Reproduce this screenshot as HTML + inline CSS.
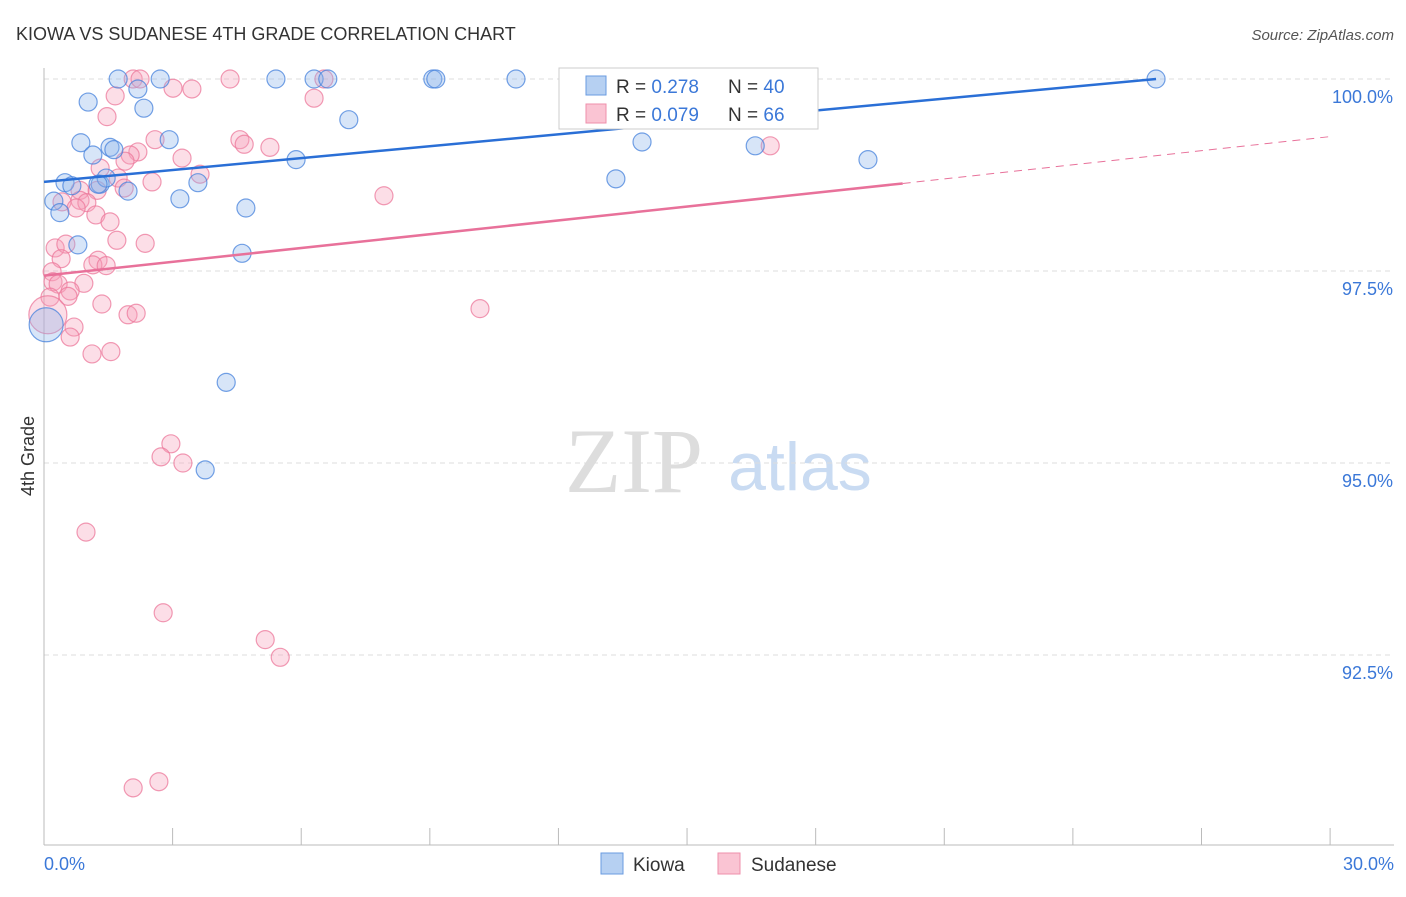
<!DOCTYPE html>
<html><head><meta charset="utf-8"><style>
body{margin:0;background:#fff;font-family:"Liberation Sans",sans-serif}
</style></head><body>
<svg id="c" width="1406" height="892" xmlns="http://www.w3.org/2000/svg" font-family="Liberation Sans, sans-serif">
<text x="16" y="40" font-size="18" fill="#333">KIOWA VS SUDANESE 4TH GRADE CORRELATION CHART</text>
<text x="1394" y="40" font-size="15" fill="#555" text-anchor="end" font-style="italic">Source: ZipAtlas.com</text>
<text x="634" y="492" font-size="92" fill="#ddd" text-anchor="middle" font-family="Liberation Serif, serif">ZIP</text>
<text x="800" y="490" font-size="68" fill="#c9dbf2" text-anchor="middle">atlas</text>
<text transform="translate(34,456) rotate(-90)" font-size="18" fill="#333" text-anchor="middle">4th Grade</text>
<g id="grid"></g><g id="axes"></g><g id="pts"></g><g id="lines"></g>
<g>
<rect x="559" y="68" width="259" height="61" fill="#fff" stroke="#ccc"/>
<rect x="586" y="76" width="20" height="19" fill="#b6d0f2" stroke="#6a9be0"/>
<rect x="586" y="104" width="20" height="19" fill="#fac4d3" stroke="#ef8fab"/>
<text x="616" y="93" font-size="19" fill="#333">R = <tspan fill="#3b78d8">0.278</tspan><tspan x="728">N = </tspan><tspan fill="#3b78d8">40</tspan></text>
<text x="616" y="121" font-size="19" fill="#333">R = <tspan fill="#3b78d8">0.079</tspan><tspan x="728">N = </tspan><tspan fill="#3b78d8">66</tspan></text>
</g>
<g>
<rect x="601" y="853" width="22" height="21" fill="#b6d0f2" stroke="#6a9be0"/>
<text x="633" y="871" font-size="19" fill="#333">Kiowa</text>
<rect x="718" y="853" width="22" height="21" fill="#fac4d3" stroke="#ef8fab"/>
<text x="751" y="871" font-size="19" fill="#333">Sudanese</text>
</g>
</svg>
<script>
const blueX=[1.73,2.71,5.41,6.30,6.62,9.07,9.14,11.01,16.19,25.94,2.19,1.03,2.33,7.11,0.86,2.92,1.54,1.63,1.14,5.88,13.95,16.59,19.22,0.49,0.65,1.31,1.45,1.96,3.59,0.23,0.37,3.17,4.71,13.34,0.79,4.62,4.25,3.76,0.05,1.26];
const blueY=[100,100,100,100,100,100,100,100,100,100,99.87,99.70,99.62,99.47,99.17,99.21,99.11,99.08,99.01,98.95,99.18,99.13,98.95,98.65,98.61,98.63,98.71,98.54,98.65,98.41,98.26,98.44,98.32,98.70,97.84,97.73,96.05,94.91,96.80,98.63];
const pinkX=[2.08,2.24,4.34,6.53,3.01,3.45,1.66,6.30,1.47,2.59,4.57,4.67,5.27,2.19,2.01,3.22,1.89,1.31,16.94,1.73,3.64,2.52,0.84,1.24,1.87,7.93,0.42,0.84,1.00,0.75,1.21,1.54,1.70,2.36,0.26,0.51,0.40,1.26,1.14,1.45,0.19,0.21,0.93,0.33,0.61,0.56,0.14,1.35,10.17,1.96,2.15,0.09,0.70,0.61,1.12,1.56,2.96,2.73,3.24,0.98,2.78,5.16,5.51,2.08,2.68];
const pinkY=[100,100,100,100,99.88,99.87,99.78,99.75,99.51,99.21,99.21,99.15,99.11,99.05,99.01,98.97,98.93,98.84,99.13,98.71,98.76,98.66,98.55,98.55,98.58,98.48,98.40,98.42,98.39,98.32,98.23,98.14,97.90,97.86,97.80,97.85,97.66,97.64,97.58,97.57,97.49,97.36,97.34,97.33,97.24,97.17,97.16,97.07,97.01,96.93,96.95,96.93,96.77,96.64,96.42,96.45,95.25,95.08,95.00,94.10,93.05,92.70,92.47,90.77,90.85];
const yTicks=[100,97.5,95,92.5];
const yTickLabels=["100.0%","97.5%","95.0%","92.5%"];
const blueTrend=[[0,98.66],[25.94,100]];
const pinkTrend=[[0,97.44],[20.03,98.64]];
const pinkDash=[[20.03,98.64],[30,99.25]];
const X=v=>44+v*42.87, Y=v=>79+(100-v)*76.8;
const NS="http://www.w3.org/2000/svg";
function mk(tag,attrs,parent){const e=document.createElementNS(NS,tag);for(const k in attrs)e.setAttribute(k,attrs[k]);document.getElementById(parent).appendChild(e);return e;}
yTicks.forEach((t,i)=>{
 const g=mk('line',{x1:44,x2:1394,y1:Y(t),y2:Y(t),stroke:'#ddd','stroke-dasharray':'5,4'},'grid');
 
 
 const l=mk('text',{x:1393,y:Y(t)+24,'font-size':18,fill:'#3b78d8','text-anchor':'end'},'grid');l.textContent=yTickLabels[i];
 
 
});
const ax=mk('line',{x1:44,x2:44,y1:68,y2:845,stroke:'#bbb'},'axes');


const bx=mk('line',{x1:44,x2:1394,y1:845,y2:845,stroke:'#bbb'},'axes');


for(let i=0;i<=10;i++){const t=mk('line',{x1:X(i*3),x2:X(i*3),y1:828,y2:845,stroke:'#bbb'},'axes');
 
 }
const x0=mk('text',{x:44,y:870,'font-size':18,fill:'#3b78d8'},'axes');x0.textContent='0.0%';


const x1=mk('text',{x:1394,y:870,'font-size':18,fill:'#3b78d8','text-anchor':'end'},'axes');x1.textContent='30.0%';


pinkX.forEach((x,i)=>{const c=mk('circle',{cx:X(x),cy:Y(pinkY[i]),r:(i==51?19:9),fill:'rgba(246,160,185,0.35)',stroke:'rgba(236,120,155,0.75)','stroke-width':1.2},'pts');
 
 });
blueX.forEach((x,i)=>{const c=mk('circle',{cx:X(x),cy:Y(blueY[i]),r:(i==38?17:9),fill:'rgba(140,180,235,0.35)',stroke:'rgba(70,130,220,0.75)','stroke-width':1.2},'pts');
 
 });
const bl=mk('line',{x1:X(blueTrend[0][0]),y1:Y(blueTrend[0][1]),x2:X(blueTrend[1][0]),y2:Y(blueTrend[1][1]),stroke:'#2a6fd6','stroke-width':2.5},'lines');


const pl=mk('line',{x1:X(pinkTrend[0][0]),y1:Y(pinkTrend[0][1]),x2:X(pinkTrend[1][0]),y2:Y(pinkTrend[1][1]),stroke:'#e8719a','stroke-width':2.5},'lines');


const pd=mk('line',{x1:X(pinkDash[0][0]),y1:Y(pinkDash[0][1]),x2:X(pinkDash[1][0]),y2:Y(pinkDash[1][1]),stroke:'#e8719a','stroke-width':1,'stroke-dasharray':'8,6'},'lines');


</script>
</body></html>
